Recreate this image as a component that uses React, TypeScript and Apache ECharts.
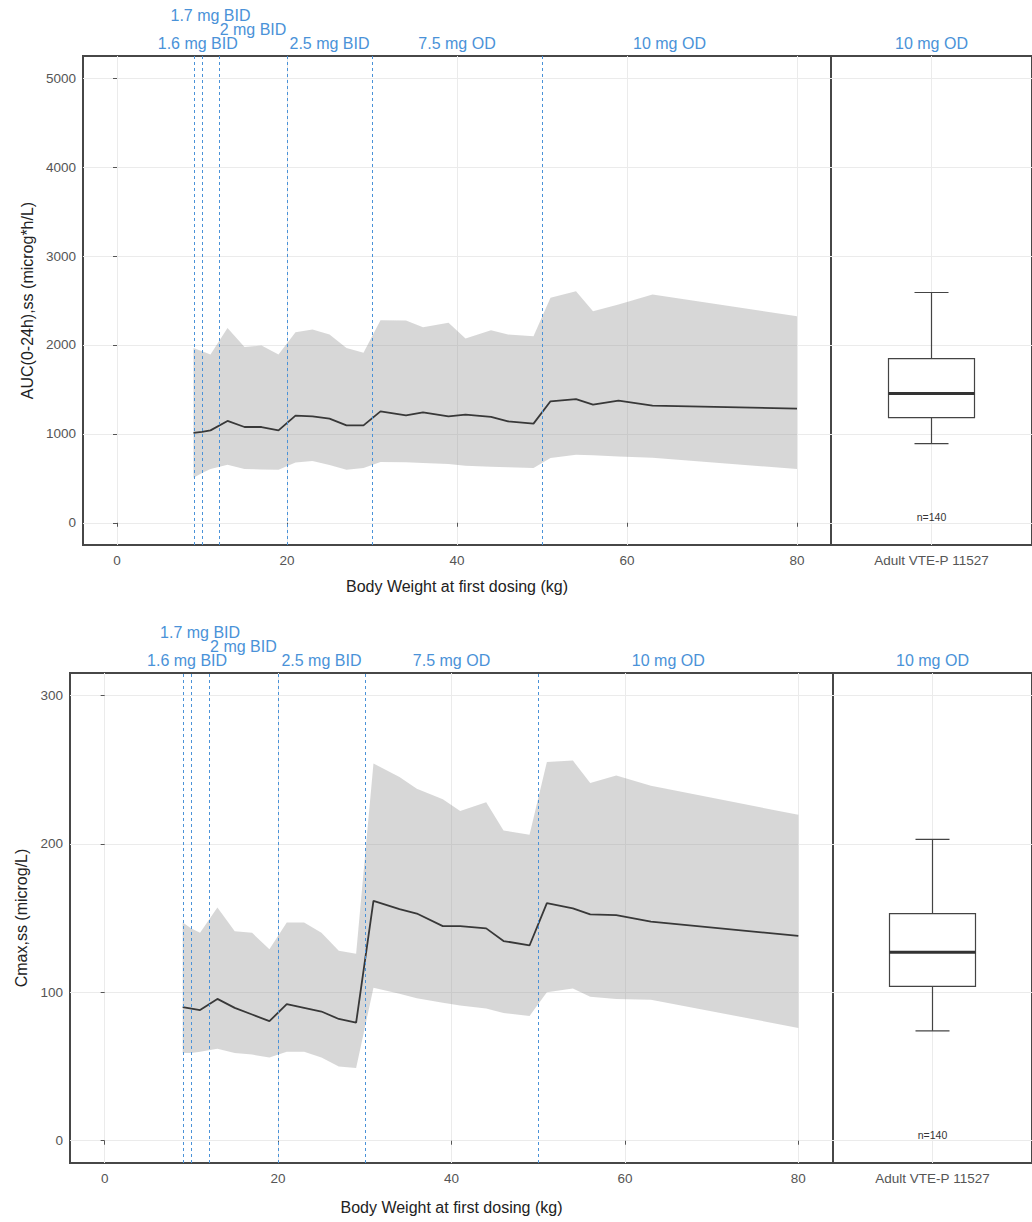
import React, { useEffect, useRef } from "react";
import * as echarts from "echarts";

// ---------- shared categories / labels ----------
const weightTicks = [0, 20, 40, 60, 80];
const doseBreaks = [9, 10, 12, 20, 30, 50, 80];
const doseLabels = ["1.6 mg BID", "1.7 mg BID", "2 mg BID", "2.5 mg BID", "7.5 mg OD", "10 mg OD"];
const doseLevels = [0, 2, 1, 0, 0, 0];
const adultCategory = ["Adult VTE-P 11527"];
const adultDose = "10 mg OD";
const adultN = "n=140";
const xTitle = "Body Weight at first dosing (kg)";

// ---------- AUC panel ----------
const aucTitle = "AUC(0-24h),ss (microg*h/L)";
const aucTicks = [0, 1000, 2000, 3000, 4000, 5000];
const aucWeight = [9, 10, 11, 13, 15, 17, 19, 21, 23, 25, 27, 29, 31, 34, 36, 39, 41, 44, 46, 49, 51, 54, 56, 59, 63, 80];
const aucMedian = [1010, 1022, 1039, 1145, 1077, 1077, 1039, 1205, 1197, 1171, 1096, 1096, 1253, 1208, 1242, 1197, 1216, 1190, 1141, 1115, 1366, 1390, 1329, 1374, 1318, 1284];
const aucUpper = [1967, 1930, 1892, 2192, 1978, 1993, 1892, 2143, 2173, 2117, 1967, 1911, 2278, 2275, 2200, 2249, 2072, 2166, 2117, 2098, 2530, 2605, 2380, 2455, 2568, 2323];
const aucLower = [507, 560, 604, 653, 604, 600, 597, 679, 695, 650, 597, 616, 683, 680, 672, 660, 642, 630, 625, 616, 728, 766, 760, 745, 730, 604];
// whisker low, Q1, median, Q3, whisker high
const aucAdultBox = [890, 1182, 1453, 1847, 2590];

// ---------- Cmax panel ----------
const cmaxTitle = "Cmax,ss (microg/L)";
const cmaxTicks = [0, 100, 200, 300];
const cmaxWeight = [9, 10, 11, 13, 15, 17, 19, 21, 23, 25, 27, 29, 31, 34, 36, 39, 41, 44, 46, 49, 51, 54, 56, 59, 63, 80];
const cmaxMedian = [90, 89, 88, 95.5, 89.5, 85, 80.5, 92, 89.5, 87, 82, 79.5, 161.5, 156, 153, 144.5, 144.5, 143, 134.5, 131.5, 160, 156.5, 152.5, 152, 147.5, 138];
const cmaxUpper = [147, 143, 140, 157, 141, 140, 129, 147, 147, 140, 128, 126, 254, 245, 237, 230, 222, 228, 209, 206, 255, 256, 241, 246, 239, 219.5];
const cmaxLower = [59, 59, 60, 62, 59, 58, 56, 60, 60, 56, 50, 49, 103, 99, 96, 93, 91, 89, 86, 84, 100, 102.5, 97, 95.5, 95, 76];
const cmaxAdultBox = [74, 104, 127, 153, 203];

const FONT = "'Liberation Sans', Arial, Helvetica, sans-serif";
const BLUE = "#4a92d8";
const BAND = "rgba(150,150,150,0.38)";
const TICK_COLOR = "#555";
const GRID_COLOR = "#ebebeb";
const BORDER = "#474747";

export default function App() {
  const ref = useRef<HTMLDivElement>(null);

  useEffect(() => {
    document.body.style.margin = "0";
    const chart = echarts.init(ref.current!, null, { renderer: "svg" });

    const panels = [
      {
        grid: { left: 83, top: 56, width: 748, height: 489 },
        box: { left: 831, top: 56, width: 210, height: 489 },
        yMin: -250, yMax: 5250, yTicks: aucTicks, title: aucTitle, nameGap: 43, xNameGap: 33,
        weight: aucWeight, median: aucMedian, upper: aucUpper, lower: aucLower, adult: aucAdultBox,
      },
      {
        grid: { left: 70, top: 673, width: 763, height: 490 },
        box: { left: 833, top: 673, width: 210, height: 490 },
        yMin: -15, yMax: 315, yTicks: cmaxTicks, title: cmaxTitle, nameGap: 40, xNameGap: 36,
        weight: cmaxWeight, median: cmaxMedian, upper: cmaxUpper, lower: cmaxLower, adult: cmaxAdultBox,
      },
    ];

    const grid: any[] = [];
    const xAxis: any[] = [];
    const yAxis: any[] = [];
    const series: any[] = [];

    const tickLabel = { color: TICK_COLOR, fontSize: 13.5, fontFamily: FONT };
    const titleStyle = { color: "#222", fontSize: 16, fontFamily: FONT };
    const plain = (v: number) => String(v);

    panels.forEach((p, k) => {
      const L = 2 * k;
      const R = 2 * k + 1;
      const frame = { show: true, borderColor: BORDER, borderWidth: 2, backgroundColor: "transparent" };
      grid.push({ ...p.grid, ...frame });
      grid.push({ ...p.box, ...frame });

      xAxis.push({
        gridIndex: L, type: "value", min: -4, max: 84,
        name: xTitle, nameLocation: "middle", nameGap: p.xNameGap, nameTextStyle: titleStyle,
        axisLine: { show: false },
        axisTick: { show: true, length: 4, customValues: weightTicks, lineStyle: { color: TICK_COLOR } },
        axisLabel: { ...tickLabel, margin: 8, customValues: weightTicks, formatter: plain },
        splitLine: { show: true, lineStyle: { color: GRID_COLOR, width: 1 } },
      });
      xAxis.push({
        gridIndex: R, type: "category", data: adultCategory, boundaryGap: true,
        axisLine: { show: false },
        axisTick: { show: true, alignWithLabel: true, length: 4, lineStyle: { color: TICK_COLOR } },
        axisLabel: { ...tickLabel, margin: 8 },
        splitLine: { show: false },
      });
      yAxis.push({
        gridIndex: L, type: "value", min: p.yMin, max: p.yMax,
        name: p.title, nameLocation: "middle", nameGap: p.nameGap, nameTextStyle: titleStyle,
        axisLine: { show: false },
        axisTick: { show: true, length: 4, customValues: p.yTicks, lineStyle: { color: TICK_COLOR } },
        axisLabel: { ...tickLabel, margin: 7, customValues: p.yTicks, formatter: plain },
        splitLine: { show: true, lineStyle: { color: GRID_COLOR, width: 1 } },
      });
      yAxis.push({
        gridIndex: R, type: "value", min: p.yMin, max: p.yMax,
        axisLine: { show: false },
        axisTick: { show: false, customValues: p.yTicks },
        axisLabel: { show: false, customValues: p.yTicks },
        splitLine: { show: true, lineStyle: { color: GRID_COLOR, width: 1 } },
      });

      // ribbon: one polygon through the upper edge and back along the lower edge
      series.push({
        type: "custom", xAxisIndex: L, yAxisIndex: L, silent: true, clip: true, z: 2,
        data: p.weight.map((w, i) => [w, p.lower[i], p.upper[i]]),
        renderItem: (params: any, api: any) => {
          if (params.dataIndex !== 0) return null;
          const top = p.weight.map((w, i) => api.coord([w, p.upper[i]]));
          const bot = p.weight.map((w, i) => api.coord([w, p.lower[i]])).reverse();
          return {
            type: "polygon",
            shape: { points: top.concat(bot) },
            style: { fill: BAND, stroke: "none" },
          };
        },
      });
      // median line
      series.push({
        type: "line", xAxisIndex: L, yAxisIndex: L, silent: true, symbol: "none", z: 3,
        lineStyle: { color: "#383838", width: 1.8 },
        data: p.weight.map((w, i) => [w, p.median[i]]),
      });
      // dose-change reference lines (dashed, full panel height)
      series.push({
        type: "custom", xAxisIndex: L, yAxisIndex: L, silent: true, clip: false, z: 4,
        data: doseBreaks.slice(0, -1).map((b) => [b, 0]),
        renderItem: (params: any, api: any) => {
          const a = api.coord([api.value(0), p.yMin]);
          const b = api.coord([api.value(0), p.yMax]);
          const x = Math.round(a[0]) + 0.5;
          return {
            type: "line",
            shape: { x1: x, y1: a[1], x2: x, y2: b[1] },
            style: { stroke: BLUE, lineWidth: 1, lineDash: [3, 3] },
          };
        },
      });
      // dose labels above the panel
      series.push({
        type: "custom", xAxisIndex: L, yAxisIndex: L, silent: true, clip: false, z: 5,
        data: doseLabels.map((_, i) => [(doseBreaks[i] + doseBreaks[i + 1]) / 2, doseLevels[i]]),
        renderItem: (params: any, api: any) => {
          const pt = api.coord([api.value(0), p.yMax]);
          return {
            type: "text",
            x: pt[0],
            y: pt[1] - 13 - 14 * api.value(1),
            style: {
              text: doseLabels[params.dataIndex], fill: BLUE,
              font: `16px ${FONT}`, align: "center", verticalAlign: "middle",
            },
          };
        },
      });
      // centre grid line of the adult panel
      series.push({
        type: "line", xAxisIndex: R, yAxisIndex: R, silent: true, data: [], z: 1,
        markLine: {
          silent: true, symbol: ["none", "none"], label: { show: false },
          lineStyle: { type: "solid", color: GRID_COLOR, width: 1 },
          data: [{ xAxis: adultCategory[0] }],
        },
      });
      // adult box plot
      series.push({
        type: "custom", xAxisIndex: R, yAxisIndex: R, silent: true, clip: false, z: 5,
        data: [[0, ...p.adult]],
        renderItem: (params: any, api: any) => {
          const c = api.value(0);
          const x = api.coord([c, 0])[0];
          const y = (v: number) => api.coord([c, v])[1];
          const lo = y(api.value(1)), q1 = y(api.value(2)), md = y(api.value(3)),
            q3 = y(api.value(4)), hi = y(api.value(5));
          const hw = 43, cw = 17;
          const ls = { stroke: "#444", lineWidth: 1.2 };
          return {
            type: "group",
            children: [
              { type: "line", shape: { x1: x, y1: hi, x2: x, y2: q3 }, style: ls },
              { type: "line", shape: { x1: x, y1: q1, x2: x, y2: lo }, style: ls },
              { type: "line", shape: { x1: x - cw, y1: hi, x2: x + cw, y2: hi }, style: ls },
              { type: "line", shape: { x1: x - cw, y1: lo, x2: x + cw, y2: lo }, style: ls },
              { type: "rect", shape: { x: x - hw, y: q3, width: 2 * hw, height: q1 - q3 }, style: { fill: "#fff", stroke: "#444", lineWidth: 1.2 } },
              { type: "line", shape: { x1: x - hw, y1: md, x2: x + hw, y2: md }, style: { stroke: "#333", lineWidth: 3 } },
              {
                type: "text", x: x, y: y(p.yMin) - 28,
                style: { text: adultN, fill: "#333", font: `10.5px ${FONT}`, align: "center", verticalAlign: "middle" },
              },
              {
                type: "text", x: x, y: y(p.yMax) - 13,
                style: { text: adultDose, fill: BLUE, font: `16px ${FONT}`, align: "center", verticalAlign: "middle" },
              },
            ],
          };
        },
      });
    });

    chart.setOption({
      animation: false,
      backgroundColor: "#ffffff",
      grid, xAxis, yAxis, series,
    });

    return () => chart.dispose();
  }, []);

  return <div ref={ref} style={{ width: 1032, height: 1222 }} />;
}
